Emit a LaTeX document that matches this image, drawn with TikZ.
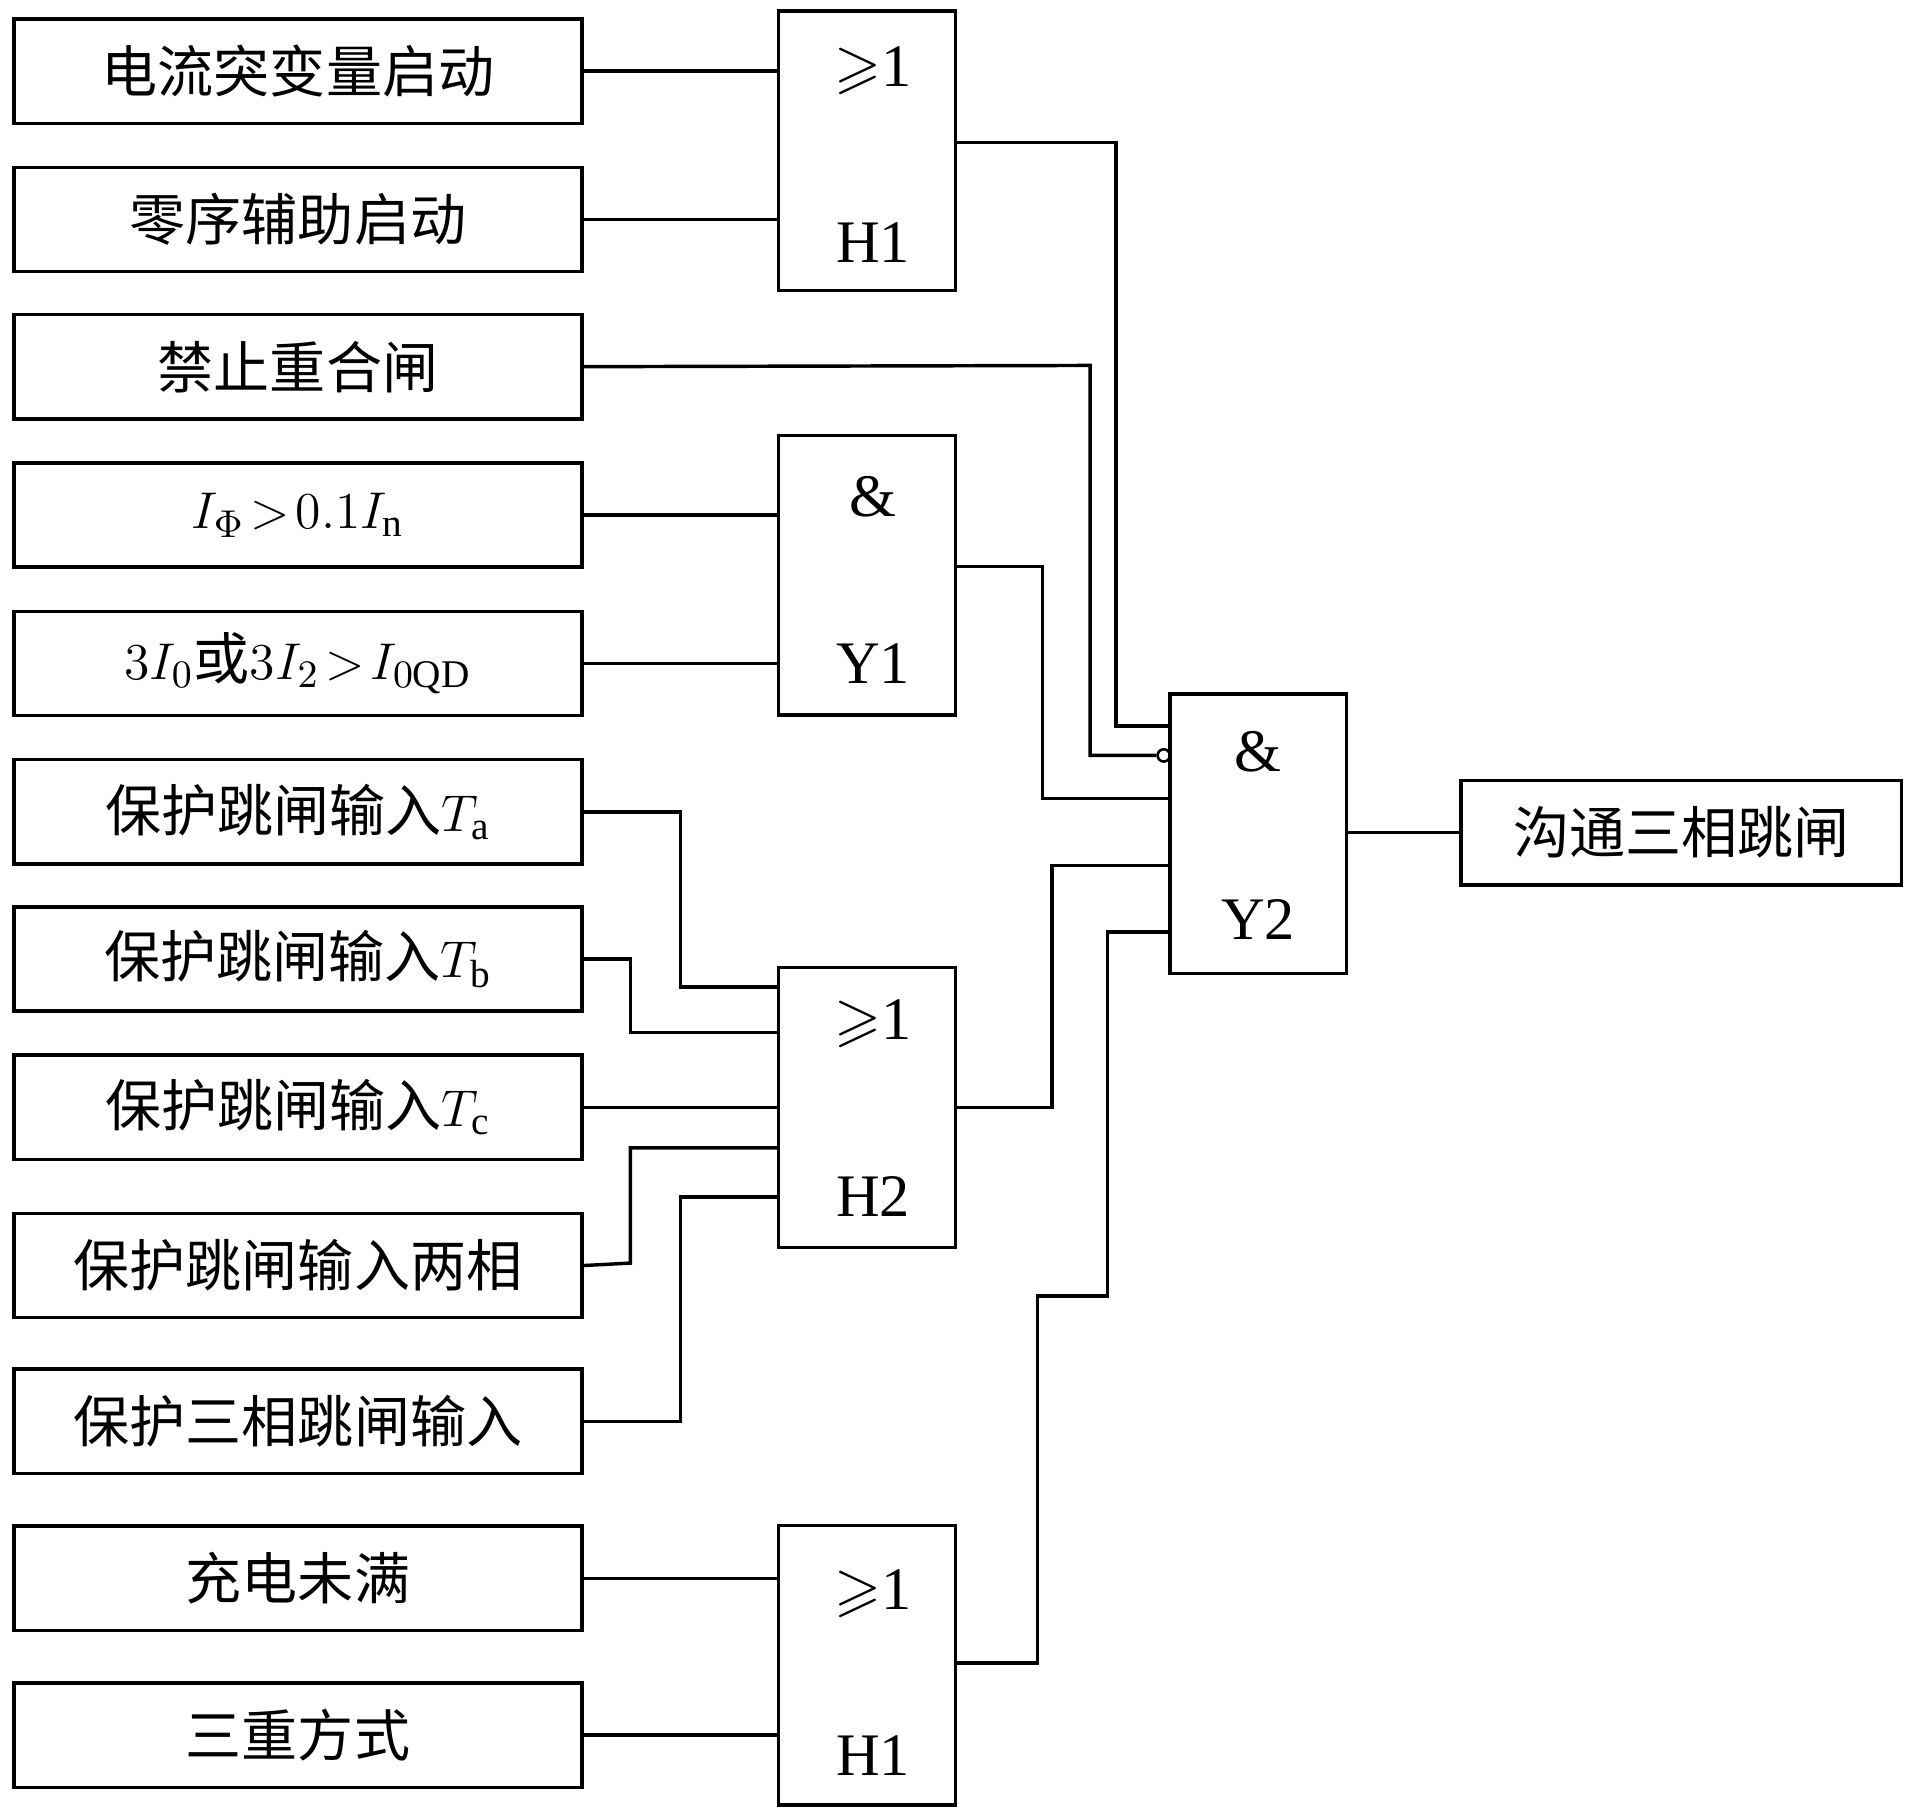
\documentclass[tikz,border=0pt]{standalone}
\usepackage{amssymb}
\usepackage{fontspec}
\setmainfont{Liberation Serif}
\newfontfamily\cjk{Noto Sans CJK SC}
\begin{document}
\begin{tikzpicture}[x=0.01cm,y=-0.01cm,line width=0.8pt,
  inbox/.style={draw,minimum width=4.63cm,minimum height=0.85cm,inner sep=0pt,font=\fontsize{13}{15}\selectfont},
  gate/.style={draw,minimum width=1.44cm,minimum height=2.28cm,inner sep=0pt},
  glabel/.style={font=\fontsize{14}{16}\selectfont}]
\useasboundingbox (0,0) rectangle (1560,1484);
% input boxes
\node[inbox] (in1) at (243,58) {\cjk 电流突变量启动};
\node[inbox] (in2) at (243,179) {\cjk 零序辅助启动};
\node[inbox] (in3) at (243,299) {\cjk 禁止重合闸};
\node[inbox] (in4) at (243,420) {$I_\Phi\!>\!0.1I_{\mathrm{n}}$};
\node[inbox] (in5) at (243,541) {$3I_0${\cjk 或}$3I_2\!>\!I_{0\mathrm{QD}}$};
\node[inbox] (in6) at (243,662) {{\cjk 保护跳闸输入}$T_{\mathrm{a}}$};
\node[inbox] (in7) at (243,782) {{\cjk 保护跳闸输入}$T_{\mathrm{b}}$};
\node[inbox] (in8) at (243,903) {{\cjk 保护跳闸输入}$T_{\mathrm{c}}$};
\node[inbox] (in9) at (243,1032) {\cjk 保护跳闸输入两相};
\node[inbox] (in10) at (243,1159) {\cjk 保护三相跳闸输入};
\node[inbox] (in11) at (243,1287) {\cjk 充电未满};
\node[inbox] (in12) at (243,1415) {\cjk 三重方式};
% gates
\node[gate] (h1) at (707,123) {};
\node[glabel] at (712,58) {$\geqslant$1};
\node[glabel] at (712,198) {H1};
\node[gate] (y1) at (707,469) {};
\node[glabel] at (712,405) {\&};
\node[glabel] at (712,541) {Y1};
\node[gate] (h2) at (707,903) {};
\node[glabel] at (712,835) {$\geqslant$1};
\node[glabel] at (712,976) {H2};
\node[gate] (h3) at (707,1358) {};
\node[glabel] at (712,1300) {$\geqslant$1};
\node[glabel] at (712,1432) {H1};
\node[gate] (y2) at (1026,680) {};
\node[glabel] at (1026,613) {\&};
\node[glabel] at (1026,750) {Y2};
\node[inbox,minimum width=3.59cm] (out) at (1371,679) {\cjk 沟通三相跳闸};
% wires
\draw (in1.east) -- (in1.east -| h1.west);
\draw (in2.east) -- (in2.east -| h1.west);
\draw (in4.east) -- (in4.east -| y1.west);
\draw (in5.east) -- (in5.east -| y1.west);
\draw (in8.east) -- (in8.east -| h2.west);
\draw (in11.east) -- (in11.east -| h3.west);
\draw (in12.east) -- (in12.east -| h3.west);
\draw (h1.east |- 0,116) -- (910,116) |- (y2.west |- 0,592);
\node[draw,circle,inner sep=0pt,minimum size=0.1cm,line width=0.6pt] (neg) at (949,616) {};
\draw (in3.east) -- (889,298) |- (neg.west);
\draw (y1.east |- 0,462) -- (850,462) |- (y2.west |- 0,651);
\draw (in6.east) -- (555,662) |- (h2.west |- 0,805);
\draw (in7.east) -- (514,782) |- (h2.west |- 0,842);
\draw (in9.east) -- (514,1030) |- (h2.west |- 0,936);
\draw (in10.east) -- (555,1159) |- (h2.west |- 0,976);
\draw (h2.east |- 0,903) -- (858,903) |- (y2.west |- 0,706);
\draw (h3.east |- 0,1356) -- (846,1356) -- (846,1057) -- (903,1057) |- (y2.west |- 0,760);
\draw (y2.east |- out.west) -- (out.west);
\end{tikzpicture}
\end{document}
